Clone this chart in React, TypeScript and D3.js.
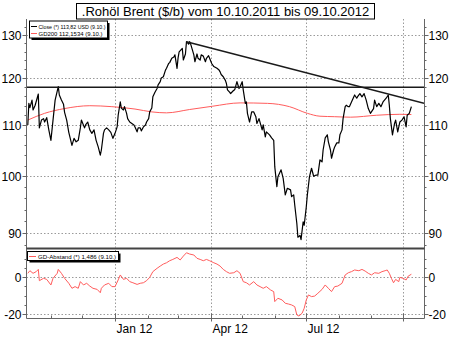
import React from "react";
import * as d3 from "d3";

const W = 450;
const H = 338;
const FONT = "'Liberation Sans', Arial, sans-serif";

const titleText = ".Rohöl Brent ($/b) vom 10.10.2011 bis 09.10.2012";
const legendClose = "Close (*) 113,82 USD (9.10.)";
const legendGD = "GD200 112,1534 (9.10.)";
const legendAbstand = "GD-Abstand (*) 1,486 (9.10.)";

const closeDates = [
  "2011-10-10","2011-10-11","2011-10-12","2011-10-14","2011-10-15","2011-10-17","2011-10-20","2011-10-21","2011-10-23","2011-10-25",
  "2011-10-26","2011-10-28","2011-10-30","2011-11-01","2011-11-03","2011-11-05","2011-11-08","2011-11-09","2011-11-11","2011-11-13",
  "2011-11-14","2011-11-16","2011-11-18","2011-11-21","2011-11-23","2011-11-25","2011-11-27","2011-11-29","2011-11-30","2011-12-03",
  "2011-12-04","2011-12-06","2011-12-08","2011-12-10","2011-12-12","2011-12-14","2011-12-16","2011-12-18","2011-12-19","2011-12-21",
  "2011-12-22","2011-12-24","2011-12-26","2011-12-28","2011-12-30","2012-01-01","2012-01-03","2012-01-04","2012-01-06","2012-01-07",
  "2012-01-09","2012-01-10","2012-01-12","2012-01-13","2012-01-15","2012-01-17","2012-01-19","2012-01-20","2012-01-22","2012-01-23",
  "2012-01-25","2012-01-26","2012-01-28","2012-01-30","2012-01-31","2012-02-02","2012-02-03","2012-02-05","2012-02-06","2012-02-08",
  "2012-02-10","2012-02-11","2012-02-13","2012-02-14","2012-02-16","2012-02-18","2012-02-19","2012-02-21","2012-02-22","2012-02-24",
  "2012-02-26","2012-02-27","2012-02-29","2012-03-01","2012-03-02","2012-03-05","2012-03-06","2012-03-08","2012-03-09","2012-03-11",
  "2012-03-12","2012-03-13","2012-03-16","2012-03-17","2012-03-19","2012-03-20","2012-03-22","2012-03-23","2012-03-25","2012-03-27",
  "2012-03-28","2012-03-30","2012-03-31","2012-04-02","2012-04-04","2012-04-07","2012-04-09","2012-04-10","2012-04-11","2012-04-13",
  "2012-04-15","2012-04-16","2012-04-17","2012-04-19","2012-04-20","2012-04-22","2012-04-24","2012-04-26","2012-04-28","2012-04-29",
  "2012-05-01","2012-05-02","2012-05-04","2012-05-05","2012-05-06","2012-05-08","2012-05-10","2012-05-12","2012-05-14","2012-05-15",
  "2012-05-17","2012-05-20","2012-05-21","2012-05-23","2012-05-24","2012-05-27","2012-05-29","2012-05-31","2012-06-01","2012-06-03",
  "2012-06-04","2012-06-07","2012-06-09","2012-06-11","2012-06-13","2012-06-16","2012-06-17","2012-06-19","2012-06-20","2012-06-22",
  "2012-06-23","2012-06-25","2012-06-26","2012-06-28","2012-06-29","2012-07-01","2012-07-02","2012-07-04","2012-07-05","2012-07-06",
  "2012-07-08","2012-07-10","2012-07-12","2012-07-14","2012-07-16","2012-07-17","2012-07-19","2012-07-21","2012-07-22","2012-07-24",
  "2012-07-25","2012-07-27","2012-07-28","2012-07-30","2012-08-01","2012-08-02","2012-08-04","2012-08-05","2012-08-07","2012-08-08",
  "2012-08-10","2012-08-11","2012-08-13","2012-08-16","2012-08-18","2012-08-19","2012-08-21","2012-08-23","2012-08-25","2012-08-27",
  "2012-08-29","2012-08-31","2012-09-03","2012-09-04","2012-09-06","2012-09-08","2012-09-10","2012-09-12","2012-09-15","2012-09-17",
  "2012-09-18","2012-09-19","2012-09-21","2012-09-23","2012-09-24","2012-09-26","2012-09-28","2012-09-30","2012-10-02","2012-10-04",
  "2012-10-05","2012-10-07","2012-10-09",
];
const closeValues = [
  110.0,114.5,113.6,115.2,113.1,114.1,116.5,109.4,111.0,111.3,
  110.6,111.5,109.0,106.9,111.0,115.2,118.1,116.3,115.2,114.3,
  112.6,111.0,108.5,105.9,107.3,106.6,106.9,109.4,111.0,109.4,
  110.0,110.6,109.0,108.3,109.0,106.9,105.6,104.0,105.0,108.3,
  109.0,109.4,109.0,108.5,107.3,108.3,109.6,112.0,114.8,113.5,
  113.1,113.8,112.4,111.3,110.6,110.3,110.0,109.6,108.6,109.4,
  109.4,108.8,109.6,110.0,110.6,111.3,112.7,113.5,115.9,116.9,
  117.7,118.5,119.2,120.0,120.3,121.8,122.2,123.3,123.5,124.5,
  124.8,125.3,122.2,124.6,126.0,126.8,124.1,125.5,128.4,127.8,
  128.4,127.8,125.3,123.7,125.5,124.5,124.1,125.3,125.0,123.7,
  124.5,125.1,124.5,123.3,122.6,122.2,121.8,121.4,120.8,120.3,
  119.5,118.8,117.4,116.9,116.6,117.1,117.5,119.2,117.7,118.1,
  119.2,117.4,114.5,114.8,112.4,110.6,112.7,112.7,111.7,110.3,
  111.3,109.0,110.0,107.6,108.6,108.0,107.4,106.9,101.8,98.1,
  99.9,101.2,99.6,96.6,97.8,97.5,96.3,96.6,94.8,91.6,
  89.3,89.6,88.9,91.9,91.3,94.5,96.6,99.9,100.7,101.5,
  100.0,100.2,100.2,103.1,102.7,105.0,107.4,108.0,106.6,105.0,
  103.4,105.0,105.6,106.4,106.4,108.0,109.0,111.3,113.8,114.1,
  113.8,113.8,114.8,116.3,115.6,116.0,116.6,115.9,116.6,115.2,
  113.4,112.4,113.4,115.2,113.8,114.5,113.8,114.8,115.6,116.3,
  114.1,111.3,108.0,110.3,111.0,108.6,110.6,111.0,111.7,109.6,
  112.0,112.4,113.82,
];

const gd200Dates = [
  "2011-10-10","2011-10-26","2011-11-14","2011-12-08","2011-12-29","2012-01-20","2012-02-05","2012-02-19","2012-03-12","2012-04-03",
  "2012-04-29","2012-05-25","2012-06-15","2012-07-02","2012-07-14","2012-07-28","2012-08-12","2012-09-06","2012-09-28","2012-10-09",
];
const gd200Values = [
  111.0,112.4,113.4,114.0,113.8,113.3,112.7,112.5,113.2,113.9,
  114.6,114.5,113.8,112.4,111.8,111.7,111.6,112.0,112.2,112.15,
];

const abstandDates = [
  "2011-10-10","2011-10-12","2011-10-15","2011-10-18","2011-10-20","2011-10-21","2011-10-25","2011-10-28","2011-11-01","2011-11-03",
  "2011-11-07","2011-11-08","2011-11-11","2011-11-14","2011-11-18","2011-11-21","2011-11-24","2011-11-27","2011-11-29","2011-12-02",
  "2011-12-05","2011-12-08","2011-12-11","2011-12-15","2011-12-18","2011-12-19","2011-12-22","2011-12-26","2011-12-29","2012-01-01",
  "2012-01-04","2012-01-06","2012-01-09","2012-01-12","2012-01-15","2012-01-18","2012-01-22","2012-01-25","2012-01-28","2012-01-31",
  "2012-02-03","2012-02-06","2012-02-10","2012-02-13","2012-02-16","2012-02-19","2012-02-22","2012-02-25","2012-02-29","2012-03-03",
  "2012-03-06","2012-03-09","2012-03-12","2012-03-16","2012-03-19","2012-03-22","2012-03-25","2012-03-28","2012-03-31","2012-04-04",
  "2012-04-07","2012-04-10","2012-04-13","2012-04-16","2012-04-19","2012-04-23","2012-04-26","2012-04-29","2012-05-02","2012-05-05",
  "2012-05-08","2012-05-12","2012-05-15","2012-05-18","2012-05-21","2012-05-24","2012-05-28","2012-05-31","2012-06-01","2012-06-04",
  "2012-06-08","2012-06-11","2012-06-14","2012-06-17","2012-06-20","2012-06-22","2012-06-24","2012-06-27","2012-06-29","2012-07-01",
  "2012-07-03","2012-07-06","2012-07-09","2012-07-12","2012-07-16","2012-07-19","2012-07-22","2012-07-25","2012-07-28","2012-07-31",
  "2012-08-04","2012-08-07","2012-08-10","2012-08-13","2012-08-16","2012-08-20","2012-08-23","2012-08-26","2012-08-29","2012-09-01",
  "2012-09-04","2012-09-08","2012-09-11","2012-09-14","2012-09-16","2012-09-18","2012-09-20","2012-09-22","2012-09-24","2012-09-27",
  "2012-09-28","2012-10-01","2012-10-04","2012-10-06","2012-10-09",
];
const abstandValues = [
  2.0,3.4,2.0,2.9,4.1,-2.0,-0.7,-1.3,-4.3,-0.7,
  2.0,4.1,2.0,-0.7,-3.4,-6.1,-5.2,-6.1,-2.5,-4.3,
  -3.4,-4.9,-6.1,-6.7,-8.5,-6.1,-4.3,-3.4,-5.2,-5.2,
  -1.6,1.1,-1.3,-0.7,-2.5,-3.1,-4.0,-3.4,-3.1,-2.0,
  -0.2,2.9,4.7,5.9,7.0,7.7,8.8,9.5,10.6,9.2,
  11.3,13.1,12.4,11.9,10.1,9.5,8.8,9.5,8.8,7.7,
  7.0,5.9,4.1,2.9,2.0,2.3,3.4,2.0,-2.5,-3.1,
  -4.3,-2.5,-4.3,-5.2,-6.1,-5.2,-7.0,-7.9,-13.3,-11.5,
  -12.4,-14.2,-14.6,-15.1,-16.0,-20.5,-21.1,-19.6,-16.9,-12.4,
  -9.7,-10.6,-10.3,-8.8,-6.7,-4.3,-6.1,-7.9,-5.2,-4.9,
  -3.4,1.1,2.3,2.9,3.8,3.4,4.1,3.2,2.0,1.1,
  2.3,2.0,2.9,3.4,3.8,2.0,-0.7,-3.1,-1.3,-2.5,
  -0.2,-0.7,-1.6,0.5,1.486,
];

const priceTicks = [90, 100, 110, 120, 130];
const priceMinorTicks = [88, 92, 94, 96, 98, 102, 104, 106, 108, 112, 114, 116, 118, 122, 124, 126, 128, 132];
const abstandTicks = [-20, 0];
const abstandMinorTicks = [-15, -10, -5, 5, 10];
const quarterDates = ["2012-01-01", "2012-04-01", "2012-07-01", "2012-10-01"];
const quarterLabels = ["Jan 12", "Apr 12", "Jul 12", ""];
const resistanceLevel = 118.0;
const trendDates = ["2012-03-09", "2012-10-21"];
const trendValues = [128.4, 114.5];

const parse = d3.timeParse("%Y-%m-%d");

export default function App() {
  const L = 26.5;
  const R = 424.5;
  const mainTop = 19;
  const mainBottom = 248.5;
  const lowTop = 250;
  const lowBottom = 318.5;

  const x = d3.scaleTime()
    .domain([parse("2011-10-10") as Date, parse("2012-10-21") as Date])
    .range([27.8, 424]);
  const yMain = d3.scaleLog().domain([90, 130]).range([233, 35]);
  const yLow = d3.scaleLinear().domain([-20, 0]).range([314, 277]);

  const closeLine = d3.line<number>()
    .x((_, i) => x(parse(closeDates[i]) as Date))
    .y((v) => yMain(v));
  const gdLine = d3.line<number>()
    .x((_, i) => x(parse(gd200Dates[i]) as Date))
    .y((v) => yMain(v))
    .curve(d3.curveMonotoneX);
  const abLine = d3.line<number>()
    .x((_, i) => x(parse(abstandDates[i]) as Date))
    .y((v) => yLow(v));
  const trendLine = d3.line<number>()
    .x((_, i) => x(parse(trendDates[i]) as Date))
    .y((v) => yMain(v));

  const months = d3.timeMonth.range(parse("2011-10-10") as Date, parse("2012-10-21") as Date);
  const grid = "#9a9a9a";
  const axisCol = "#666";
  const red = "#ff5c5c";

  return (
    <svg width={W} height={H} style={{ position: "absolute", left: 0, top: 0, background: "#fff" }}
      fontFamily={FONT}>
      <defs>
        <clipPath id="clipMain"><rect x={27} y={mainTop} width={397} height={mainBottom - mainTop - 1} /></clipPath>
        <clipPath id="clipLow"><rect x={27} y={lowTop} width={397} height={lowBottom - lowTop} /></clipPath>
      </defs>
      <rect x={0} y={0} width={W} height={H} fill="#fff" />

      {/* gridlines */}
      {priceTicks.map((t) => (
        <line key={"gm" + t} x1={L} x2={R} y1={Math.round(yMain(t)) + 0.5} y2={Math.round(yMain(t)) + 0.5}
          stroke={grid} strokeDasharray="1.5,2" strokeWidth={1} />
      ))}
      {abstandTicks.map((t) => (
        <line key={"gl" + t} x1={L} x2={R} y1={Math.round(yLow(t)) + 0.5} y2={Math.round(yLow(t)) + 0.5}
          stroke={grid} strokeDasharray="1.5,2" strokeWidth={1} />
      ))}
      {quarterDates.map((q) => {
        const xx = Math.round(x(parse(q) as Date)) + 0.5;
        return (
          <g key={"gv" + q}>
            <line x1={xx} x2={xx} y1={mainTop} y2={mainBottom - 1} stroke={grid} strokeDasharray="1.5,2" />
            <line x1={xx} x2={xx} y1={lowTop} y2={lowBottom} stroke={grid} strokeDasharray="1.5,2" />
          </g>
        );
      })}

      {/* main series */}
      <g clipPath="url(#clipMain)">
        <path d={gdLine(gd200Values) || ""} fill="none" stroke={red} strokeWidth={1} />
        <path d={closeLine(closeValues) || ""} fill="none" stroke="#000" strokeWidth={1.2} strokeLinejoin="round" />
        <line x1={L} x2={R} y1={yMain(resistanceLevel)} y2={yMain(resistanceLevel)} stroke="#1a1a1a" strokeWidth={1.5} />
        <path d={trendLine(trendValues) || ""} fill="none" stroke="#1a1a1a" strokeWidth={1.5} />
      </g>

      {/* lower series */}
      <g clipPath="url(#clipLow)">
        <path d={abLine(abstandValues) || ""} fill="none" stroke={red} strokeWidth={1} strokeLinejoin="round" />
      </g>

      {/* axes frame */}
      <line x1={L} x2={L} y1={mainTop} y2={lowBottom} stroke={axisCol} strokeWidth={1} />
      <line x1={R} x2={R} y1={mainTop} y2={lowBottom} stroke={axisCol} strokeWidth={1} />
      <line x1={L} x2={R} y1={lowBottom} y2={lowBottom} stroke={axisCol} strokeWidth={1} />
      <line x1={L} x2={R} y1={mainBottom} y2={mainBottom} stroke="#444" strokeWidth={2} />

      {/* y ticks main */}
      {priceTicks.map((t) => {
        const yy = Math.round(yMain(t)) + 0.5;
        return (
          <g key={"pt" + t}>
            <line x1={L - 4} x2={L} y1={yy} y2={yy} stroke={axisCol} />
            <line x1={R} x2={R + 4} y1={yy} y2={yy} stroke={axisCol} />
            <text x={L - 5} y={yy + 4.3} fontSize={12} textAnchor="end" fill="#000">{t}</text>
            <text x={R + 4} y={yy + 4.3} fontSize={12} textAnchor="start" fill="#000">{t}</text>
          </g>
        );
      })}
      {priceMinorTicks.map((t) => {
        const yy = Math.round(yMain(t)) + 0.5;
        if (yy < mainTop || yy > mainBottom - 1) return null;
        return (
          <g key={"pm" + t}>
            <line x1={L - 2} x2={L} y1={yy} y2={yy} stroke={axisCol} />
            <line x1={R} x2={R + 2} y1={yy} y2={yy} stroke={axisCol} />
          </g>
        );
      })}
      {abstandTicks.map((t) => {
        const yy = Math.round(yLow(t)) + 0.5;
        return (
          <g key={"at" + t}>
            <line x1={L - 4} x2={L} y1={yy} y2={yy} stroke={axisCol} />
            <line x1={R} x2={R + 4} y1={yy} y2={yy} stroke={axisCol} />
            <text x={L - 5} y={yy + 4.3} fontSize={12} textAnchor="end" fill="#000">{t}</text>
            <text x={R + 4} y={yy + 4.3} fontSize={12} textAnchor="start" fill="#000">{t}</text>
          </g>
        );
      })}
      {abstandMinorTicks.map((t) => {
        const yy = Math.round(yLow(t)) + 0.5;
        if (yy < lowTop || yy > lowBottom) return null;
        return (
          <g key={"am" + t}>
            <line x1={L - 2} x2={L} y1={yy} y2={yy} stroke={axisCol} />
            <line x1={R} x2={R + 2} y1={yy} y2={yy} stroke={axisCol} />
          </g>
        );
      })}

      {/* x ticks */}
      {months.map((m, i) => {
        const xx = Math.round(x(m)) + 0.5;
        return <line key={"mt" + i} x1={xx} x2={xx} y1={lowBottom - 3} y2={lowBottom} stroke={axisCol} />;
      })}
      {quarterDates.map((q, i) => {
        const xx = Math.round(x(parse(q) as Date)) + 0.5;
        return (
          <g key={"qt" + q}>
            <line x1={xx} x2={xx} y1={lowBottom - 5} y2={lowBottom + 3} stroke={axisCol} />
            <text x={xx + 1} y={333} fontSize={12} fill="#000">{quarterLabels[i]}</text>
          </g>
        );
      })}

      {/* title */}
      <rect x={76.5} y={3.5} width={298} height={15.5} fill="#fff" stroke="#000" strokeWidth={1} />
      <text x={225.5} y={15.8} fontSize={13} textAnchor="middle" fill="#000">{titleText}</text>

      {/* main legend */}
      <rect x={31.5} y={23} width={78} height={17} fill="#000" />
      <rect x={29.5} y={21} width={78} height={17} fill="#fff" stroke="#000" strokeWidth={1} />
      <line x1={31} x2={37} y1={26.5} y2={26.5} stroke="#000" strokeWidth={1} />
      <text x={38.5} y={28.5} fontSize={5.6} fill="#000" textLength={67} lengthAdjust="spacingAndGlyphs">{legendClose}</text>
      <line x1={31} x2={37} y1={33.5} y2={33.5} stroke={red} strokeWidth={1} />
      <text x={38.5} y={35.5} fontSize={5.6} fill="#000" textLength={64} lengthAdjust="spacingAndGlyphs">{legendGD}</text>

      {/* lower legend */}
      <rect x={29.5} y={253.5} width={91} height={9} fill="#000" />
      <rect x={27.5} y={251.5} width={91} height={9} fill="#fff" stroke="#000" strokeWidth={1} />
      <line x1={29} x2={36} y1={256.5} y2={256.5} stroke={red} strokeWidth={1} />
      <text x={38} y={258.5} fontSize={6} fill="#000" textLength={78} lengthAdjust="spacingAndGlyphs">{legendAbstand}</text>
    </svg>
  );
}
